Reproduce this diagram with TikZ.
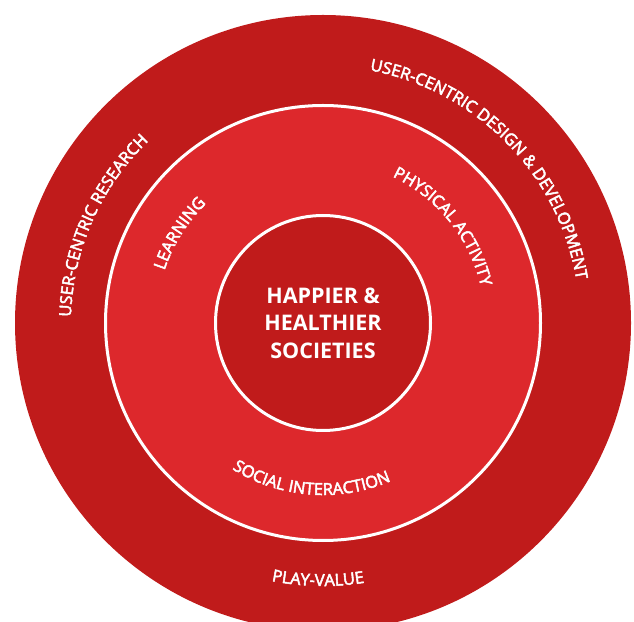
\documentclass[tikz,border=0pt]{standalone}
\usepackage{fontspec}
\setmainfont{Open Sans}
\newfontfamily\lblfam[FakeBold=3]{Open Sans}
\usetikzlibrary{decorations.text,calc}
\definecolor{ringdark}{HTML}{C01B1B}
\definecolor{ringmid}{HTML}{DD282C}
\newcommand{\lblfont}{\lblfam\fontsize{16.5}{19}\selectfont}
\begin{document}
\begin{tikzpicture}[x=1pt,y=1pt,
  ringlabel/.style={decorate, decoration={text along path, text align=center, text color=white}},
  disc/.style={circle, inner sep=0pt, outer sep=0pt}]
\useasboundingbox (0,0) rectangle (634,621);
\clip (0,0) rectangle (634,621);
\coordinate (C) at (323,298);
\node[disc, fill=ringdark, minimum size=616pt] (outer) at (C) {};
\node[disc, fill=ringmid, draw=white, line width=3pt, minimum size=435pt] (middle) at (C) {};
\node[disc, fill=ringdark, draw=white, line width=3pt, minimum size=215pt] (inner) at (C) {};
\node[align=center, text=white, font=\bfseries\fontsize{21.5}{27.5}\selectfont] (core) at (C) {HAPPIER \&\\HEALTHIER\\SOCIETIES};
% outer band labels
\path[ringlabel, decoration={text={|\lblfont|USER-CENTRIC RESEARCH}}]
  ($(C)+(196.2:252)$) arc[start angle=196.2, end angle=116.2, radius=252];
\path[ringlabel, decoration={text={|\lblfont|USER-CENTRIC DESIGN {\&} DEVELOPMENT}}]
  ($(C)+(94.6:257)$) arc[start angle=94.6, end angle=-5.4, radius=257];
\path[ringlabel, decoration={text={|\lblfont|PLAY-VALUE}}]
  ($(C)+(248.9:263)$) arc[start angle=248.9, end angle=288.9, radius=263];
% middle band labels
\path[ringlabel, decoration={text={|\lblfont|LEARNING}}]
  ($(C)+(178:167)$) arc[start angle=178, end angle=118, radius=167];
\path[ringlabel, decoration={text={|\lblfont|PHYSICAL ACTIVITY}}]
  ($(C)+(78.8:162)$) arc[start angle=78.8, end angle=-1.2, radius=162];
\path[ringlabel, decoration={text={|\lblfont|SOCIAL INTERACTION}}]
  ($(C)+(225.7:172)$) arc[start angle=225.7, end angle=305.7, radius=172];
\end{tikzpicture}
\end{document}
